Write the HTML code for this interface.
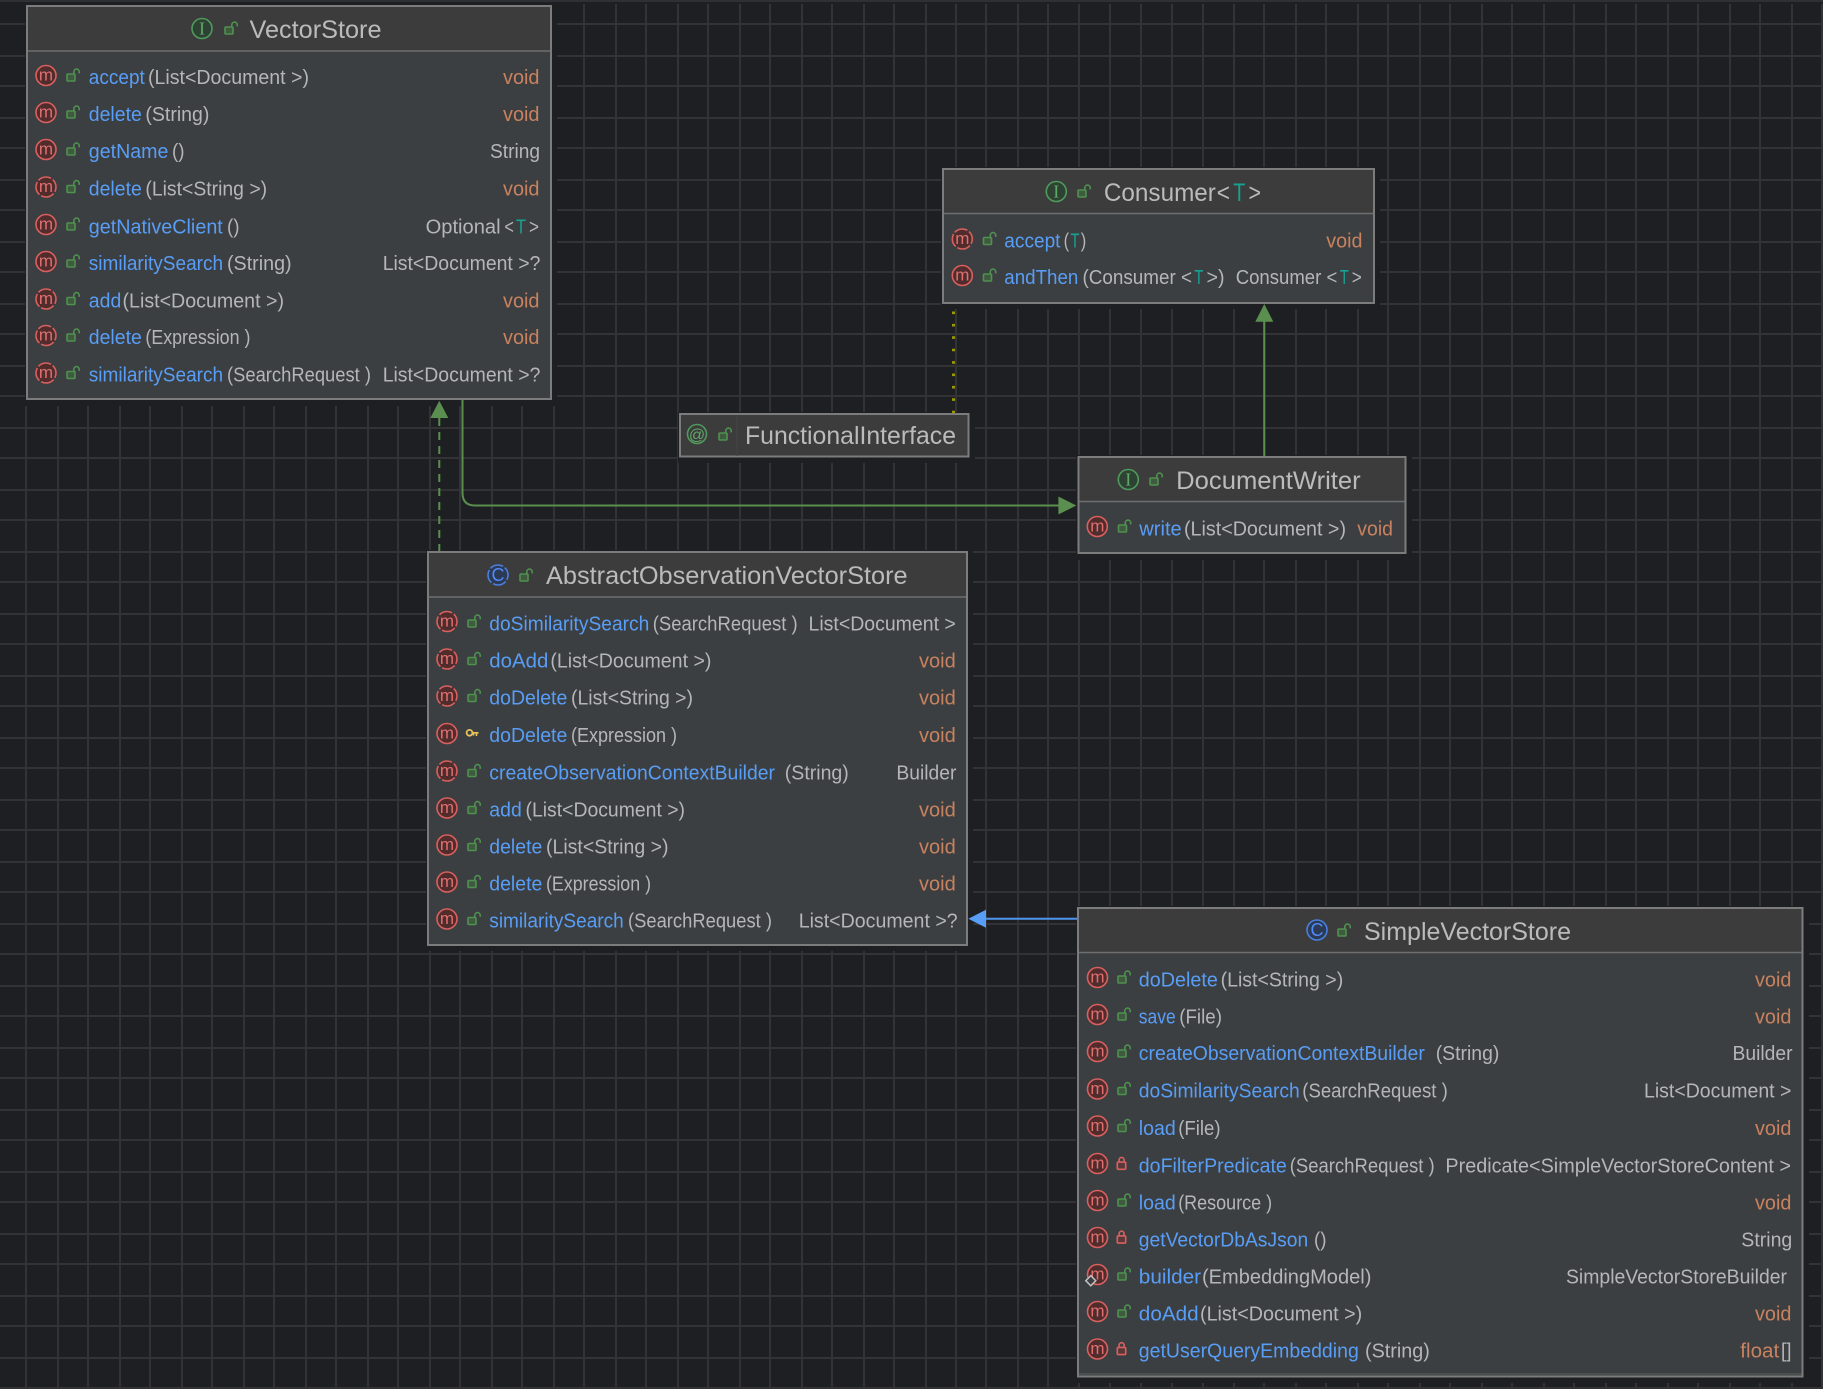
<!DOCTYPE html>
<html lang="en"><head><meta charset="utf-8"><title>VectorStore diagram</title>
<style>
html,body{margin:0;padding:0;background:#1e1f22;width:1823px;height:1389px;overflow:hidden}
svg{display:block}
text{font-family:"Liberation Sans",sans-serif;font-size:20px}
.n{fill:#589df6}.p{fill:#b4b6b8}.r{fill:#c9825f}.t{fill:#17a394}
.h{font-size:25px;fill:#bbbbbb}.ht{font-size:25px;fill:#17a394}
.c{fill:#512c2c;stroke:#d9605f;stroke-width:1.6}
.d{fill:#512c2c;stroke:#d9605f;stroke-width:1.6;stroke-dasharray:13.7 2;stroke-dashoffset:-7}
.m{font-size:17px;fill:#e07070;text-anchor:middle}
.box{fill:#3c3f41;stroke:#7c7c7c;stroke-width:2}
.hd{fill:#3c3c3c}
.dv{stroke:#6f6f6f;stroke-width:1.5}
.ig{fill:#2e4233;stroke:#4f9a5c;stroke-width:1.6}
.igt{font-family:"Liberation Serif",serif;font-size:18px;fill:#62a868;text-anchor:middle}
.ib{fill:#2b3a55;stroke:#4a7fe0;stroke-width:1.6}
.ibt{font-size:18px;fill:#548af7;text-anchor:middle}
</style></head><body>
<svg width="1823" height="1389" viewBox="0 0 1823 1389" xmlns="http://www.w3.org/2000/svg">
<defs>
<g id="lk"><rect x="-6" y="-3" width="8" height="7" rx="1" fill="#3f5a3f" stroke="#4f9150" stroke-width="1.6"/><path d="M0.8 -3V-5.2a2.7 2.7 0 0 1 5.4 0V-3.6" fill="none" stroke="#4f9150" stroke-width="1.6"/></g>
<g id="rl"><rect x="-5.2" y="-3.6" width="8.4" height="7.2" rx="1" fill="#5a3838" stroke="#d9605f" stroke-width="1.6"/><path d="M-3.4 -3.6V-5.8a2.5 2.5 0 0 1 5 0V-3.6" fill="none" stroke="#d9605f" stroke-width="1.6"/></g>
</defs>
<rect width="1823" height="1389" fill="#1e1f22"/>
<rect width="1823" height="2" fill="#2e3033"/>
<path shape-rendering="crispEdges" fill="none" stroke="#333335" stroke-width="2" d="M26 4V1389M58 4V1389M88 4V1389M120 4V1389M150 4V1389M182 4V1389M212 4V1389M244 4V1389M274 4V1389M306 4V1389M336 4V1389M368 4V1389M398 4V1389M430 4V1389M460 4V1389M492 4V1389M522 4V1389M554 4V1389M584 4V1389M616 4V1389M646 4V1389M678 4V1389M708 4V1389M740 4V1389M770 4V1389M802 4V1389M832 4V1389M864 4V1389M894 4V1389M926 4V1389M956 4V1389M986 4V1389M1018 4V1389M1048 4V1389M1079 4V1389M1110 4V1389M1141 4V1389M1172 4V1389M1203 4V1389M1234 4V1389M1264 4V1389M1296 4V1389M1326 4V1389M1358 4V1389M1388 4V1389M1420 4V1389M1450 4V1389M1482 4V1389M1512 4V1389M1544 4V1389M1574 4V1389M1606 4V1389M1636 4V1389M1668 4V1389M1698 4V1389M1730 4V1389M1760 4V1389M1792 4V1389M1822 4V1389
M0 24H1823M0 56H1823M0 86H1823M0 118H1823M0 148H1823M0 180H1823M0 210H1823M0 242H1823M0 272H1823M0 304H1823M0 334H1823M0 366H1823M0 396H1823M0 428H1823M0 458H1823M0 490H1823M0 520H1823M0 552H1823M0 582H1823M0 614H1823M0 644H1823M0 676H1823M0 706H1823M0 738H1823M0 768H1823M0 800H1823M0 830H1823M0 862H1823M0 892H1823M0 924H1823M0 954H1823M0 986H1823M0 1016H1823M0 1048H1823M0 1078H1823M0 1110H1823M0 1140H1823M0 1172H1823M0 1202H1823M0 1234H1823M0 1264H1823M0 1296H1823M0 1326H1823M0 1358H1823M0 1388H1823"/>

<!-- shadows -->
<g fill="#1e1f22">
<rect x="25" y="4" width="532" height="402"/>
<rect x="941" y="167" width="439" height="142"/>
<rect x="678" y="412" width="297" height="51"/>
<rect x="1076" y="455" width="336" height="105"/>
<rect x="426" y="550" width="547" height="401"/>
<rect x="1076" y="906" width="733" height="477"/>
</g>

<!-- connectors -->
<path d="M439.3 552V416" fill="none" stroke="#5a8f4f" stroke-width="2" stroke-dasharray="8 6"/>
<path d="M439.3 400.7L430.3 418H448.3Z" fill="#5a8f4f"/>
<path d="M462.5 399V493Q462.5 505.5 475 505.5H1060" fill="none" stroke="#5a8f4f" stroke-width="2"/>
<path d="M1076.3 505.5L1058.4 496.5V514.5Z" fill="#5a8f4f"/>
<path d="M1264.3 456V320" fill="none" stroke="#5a8f4f" stroke-width="2"/>
<path d="M1264.3 304L1255.3 321.7H1273.3Z" fill="#5a8f4f"/>
<path d="M953.5 311.5V413" fill="none" stroke="#9b9b00" stroke-width="3" stroke-dasharray="2.6 9.8"/>
<path d="M984 918.7H1077" fill="none" stroke="#4d95ef" stroke-width="2"/>
<path d="M968.3 918.7L986 909.7V927.7Z" fill="#589df6"/>

<!-- VectorStore -->
<rect class="box" x="27" y="6" width="524" height="393"/>
<rect class="hd" x="28" y="7" width="522" height="44"/>
<line class="dv" x1="28" y1="51" x2="550" y2="51"/>
<circle class="ig" cx="202" cy="28.5" r="10"/><text class="igt" x="202" y="34.5">I</text>
<use href="#lk" x="231" y="30"/>
<text class="h" x="249.5" y="38" textLength="132" lengthAdjust="spacingAndGlyphs">VectorStore</text>

<circle class="c" cx="46" cy="75.5" r="10"/><text class="m" x="46" y="80.5">m</text><use href="#lk" x="73" y="77"/>
<text class="n" x="88.8" y="84" textLength="56" lengthAdjust="spacingAndGlyphs">accept</text><text class="p" x="148" y="84" textLength="161" lengthAdjust="spacingAndGlyphs">(List&lt;Document &gt;)</text><text class="r" x="503" y="84" textLength="36.5" lengthAdjust="spacingAndGlyphs">void</text>

<circle class="c" cx="46" cy="112.5" r="10"/><text class="m" x="46" y="117.5">m</text><use href="#lk" x="73" y="114"/>
<text class="n" x="88.8" y="121" textLength="53" lengthAdjust="spacingAndGlyphs">delete</text><text class="p" x="145.4" y="121" textLength="64" lengthAdjust="spacingAndGlyphs">(String)</text><text class="r" x="503" y="121" textLength="36.5" lengthAdjust="spacingAndGlyphs">void</text>

<circle class="c" cx="46" cy="149.5" r="10"/><text class="m" x="46" y="154.5">m</text><use href="#lk" x="73" y="151"/>
<text class="n" x="88.8" y="158" textLength="79.6" lengthAdjust="spacingAndGlyphs">getName</text><text class="p" x="172" y="158" textLength="12.5" lengthAdjust="spacingAndGlyphs">()</text><text class="p" x="490" y="158" textLength="50" lengthAdjust="spacingAndGlyphs">String</text>

<circle class="d" cx="46" cy="187" r="10"/><text class="m" x="46" y="192">m</text><use href="#lk" x="73" y="188.5"/>
<text class="n" x="88.8" y="195.5" textLength="53" lengthAdjust="spacingAndGlyphs">delete</text><text class="p" x="145.4" y="195.5" textLength="121.7" lengthAdjust="spacingAndGlyphs">(List&lt;String &gt;)</text><text class="r" x="503" y="195.5" textLength="36.5" lengthAdjust="spacingAndGlyphs">void</text>

<circle class="c" cx="46" cy="224.5" r="10"/><text class="m" x="46" y="229.5">m</text><use href="#lk" x="73" y="226"/>
<text class="n" x="88.8" y="233.5" textLength="134" lengthAdjust="spacingAndGlyphs">getNativeClient</text><text class="p" x="227" y="233.5" textLength="12.5" lengthAdjust="spacingAndGlyphs">()</text><text class="p" x="425.6" y="233.5" textLength="75" lengthAdjust="spacingAndGlyphs">Optional</text><text class="p" x="504.4" y="233.5" textLength="9.5" lengthAdjust="spacingAndGlyphs">&lt;</text><text class="t" x="516" y="233.5" textLength="10" lengthAdjust="spacingAndGlyphs">T</text><text class="p" x="529" y="233.5" textLength="10" lengthAdjust="spacingAndGlyphs">&gt;</text>

<circle class="c" cx="46" cy="261.5" r="10"/><text class="m" x="46" y="266.5">m</text><use href="#lk" x="73" y="263"/>
<text class="n" x="88.8" y="270" textLength="134.3" lengthAdjust="spacingAndGlyphs">similaritySearch</text><text class="p" x="227" y="270" textLength="64.6" lengthAdjust="spacingAndGlyphs">(String)</text><text class="p" x="382.7" y="270" textLength="157.7" lengthAdjust="spacingAndGlyphs">List&lt;Document &gt;?</text>

<circle class="d" cx="46" cy="299" r="10"/><text class="m" x="46" y="304">m</text><use href="#lk" x="73" y="300.5"/>
<text class="n" x="88.8" y="307.5" textLength="32.5" lengthAdjust="spacingAndGlyphs">add</text><text class="p" x="122.5" y="307.5" textLength="161.5" lengthAdjust="spacingAndGlyphs">(List&lt;Document &gt;)</text><text class="r" x="503" y="307.5" textLength="36.5" lengthAdjust="spacingAndGlyphs">void</text>

<circle class="d" cx="46" cy="335.5" r="10"/><text class="m" x="46" y="340.5">m</text><use href="#lk" x="73" y="337"/>
<text class="n" x="88.8" y="344" textLength="53" lengthAdjust="spacingAndGlyphs">delete</text><text class="p" x="145.4" y="344" textLength="105" lengthAdjust="spacingAndGlyphs">(Expression )</text><text class="r" x="503" y="344" textLength="36.5" lengthAdjust="spacingAndGlyphs">void</text>

<circle class="d" cx="46" cy="373" r="10"/><text class="m" x="46" y="378">m</text><use href="#lk" x="73" y="374.5"/>
<text class="n" x="88.8" y="381.5" textLength="134.3" lengthAdjust="spacingAndGlyphs">similaritySearch</text><text class="p" x="227" y="381.5" textLength="144" lengthAdjust="spacingAndGlyphs">(SearchRequest )</text><text class="p" x="382.7" y="381.5" textLength="157.7" lengthAdjust="spacingAndGlyphs">List&lt;Document &gt;?</text>

<!-- Consumer -->
<rect class="box" x="943" y="169" width="431" height="134"/>
<rect class="hd" x="944" y="170" width="429" height="43"/>
<line class="dv" x1="944" y1="213.5" x2="1373" y2="213.5"/>
<circle class="ig" cx="1056.3" cy="191.5" r="10"/><text class="igt" x="1056.3" y="197.5">I</text>
<use href="#lk" x="1084" y="193"/>
<text class="h" x="1103.9" y="201" textLength="112" lengthAdjust="spacingAndGlyphs">Consumer</text><text class="h" x="1216.8" y="201" textLength="13.2" lengthAdjust="spacingAndGlyphs">&lt;</text><text class="ht" x="1233.3" y="201" textLength="12.1" lengthAdjust="spacingAndGlyphs">T</text><text class="h" x="1248.5" y="201" textLength="12.5" lengthAdjust="spacingAndGlyphs">&gt;</text>

<circle class="d" cx="962.3" cy="239" r="10"/><text class="m" x="962.3" y="244">m</text><use href="#lk" x="989.5" y="240.5"/>
<text class="n" x="1004.3" y="247.5" textLength="56.2" lengthAdjust="spacingAndGlyphs">accept</text><text class="p" x="1063.6" y="247.5" textLength="5.5" lengthAdjust="spacingAndGlyphs">(</text><text class="t" x="1070.5" y="247.5" textLength="9" lengthAdjust="spacingAndGlyphs">T</text><text class="p" x="1080.8" y="247.5" textLength="5.5" lengthAdjust="spacingAndGlyphs">)</text><text class="r" x="1326.3" y="247.5" textLength="36.2" lengthAdjust="spacingAndGlyphs">void</text>

<circle class="c" cx="962.3" cy="275.5" r="10"/><text class="m" x="962.3" y="280.5">m</text><use href="#lk" x="989.5" y="277"/>
<text class="n" x="1004.3" y="284" textLength="74" lengthAdjust="spacingAndGlyphs">andThen</text><text class="p" x="1082.5" y="284" textLength="109.5" lengthAdjust="spacingAndGlyphs">(Consumer &lt;</text><text class="t" x="1194.4" y="284" textLength="9" lengthAdjust="spacingAndGlyphs">T</text><text class="p" x="1206.5" y="284" textLength="18" lengthAdjust="spacingAndGlyphs">&gt;)</text><text class="p" x="1235.7" y="284" textLength="101.6" lengthAdjust="spacingAndGlyphs">Consumer &lt;</text><text class="t" x="1339.7" y="284" textLength="9" lengthAdjust="spacingAndGlyphs">T</text><text class="p" x="1351.8" y="284" textLength="10" lengthAdjust="spacingAndGlyphs">&gt;</text>

<!-- FunctionalInterface -->
<rect class="box" x="680" y="414" width="288.5" height="42.5" style="fill:#3c3c3c"/>
<line x1="737" y1="415" x2="737" y2="456" stroke="#444" stroke-width="1"/>
<circle cx="697" cy="434" r="9.5" fill="none" stroke="#4f9a5c" stroke-width="1.6"/><text x="697" y="440" font-size="15" fill="#62a868" text-anchor="middle" style="font-size:16px">@</text>
<use href="#lk" x="725" y="436"/>
<text class="h" x="745" y="444" textLength="211" lengthAdjust="spacingAndGlyphs">FunctionalInterface</text>

<!-- DocumentWriter -->
<rect class="box" x="1078.5" y="457" width="327" height="96"/>
<rect class="hd" x="1079.5" y="458" width="325" height="43"/>
<line class="dv" x1="1079.5" y1="501.5" x2="1404.5" y2="501.5"/>
<circle class="ig" cx="1128.3" cy="479.5" r="10"/><text class="igt" x="1128.3" y="485.5">I</text>
<use href="#lk" x="1156" y="481"/>
<text class="h" x="1176.2" y="489" textLength="184.5" lengthAdjust="spacingAndGlyphs">DocumentWriter</text>
<circle class="c" cx="1097.3" cy="526.5" r="10"/><text class="m" x="1097.3" y="531.5">m</text><use href="#lk" x="1124.5" y="528"/>
<text class="n" x="1139.3" y="535.5" textLength="42.4" lengthAdjust="spacingAndGlyphs">write</text><text class="p" x="1184" y="535.5" textLength="162" lengthAdjust="spacingAndGlyphs">(List&lt;Document &gt;)</text><text class="r" x="1357.3" y="535.5" textLength="35.7" lengthAdjust="spacingAndGlyphs">void</text>

<!-- AbstractObservationVectorStore -->
<rect class="box" x="428" y="552" width="539" height="393"/>
<rect class="hd" x="429" y="553" width="537" height="44"/>
<line class="dv" x1="429" y1="597" x2="966" y2="597"/>
<circle class="ib" cx="498" cy="575" r="10" style="stroke-dasharray:13.7 2;stroke-dashoffset:-7"/><text class="ibt" x="498" y="581">C</text>
<use href="#lk" x="526" y="577"/>
<text class="h" x="546" y="584" textLength="361.6" lengthAdjust="spacingAndGlyphs">AbstractObservationVectorStore</text>

<circle class="d" cx="447" cy="621.5" r="10"/><text class="m" x="447" y="626.5">m</text><use href="#lk" x="474" y="623"/>
<text class="n" x="489.3" y="630.5" textLength="160" lengthAdjust="spacingAndGlyphs">doSimilaritySearch</text><text class="p" x="652.7" y="630.5" textLength="145" lengthAdjust="spacingAndGlyphs">(SearchRequest )</text><text class="p" x="808.5" y="630.5" textLength="147.3" lengthAdjust="spacingAndGlyphs">List&lt;Document &gt;</text>

<circle class="d" cx="447" cy="659" r="10"/><text class="m" x="447" y="664">m</text><use href="#lk" x="474" y="660.5"/>
<text class="n" x="489.3" y="667.5" textLength="59" lengthAdjust="spacingAndGlyphs">doAdd</text><text class="p" x="550.4" y="667.5" textLength="161" lengthAdjust="spacingAndGlyphs">(List&lt;Document &gt;)</text><text class="r" x="919" y="667.5" textLength="36.8" lengthAdjust="spacingAndGlyphs">void</text>

<circle class="d" cx="447" cy="696" r="10"/><text class="m" x="447" y="701">m</text><use href="#lk" x="474" y="697.5"/>
<text class="n" x="489.3" y="704.5" textLength="78" lengthAdjust="spacingAndGlyphs">doDelete</text><text class="p" x="571" y="704.5" textLength="122" lengthAdjust="spacingAndGlyphs">(List&lt;String &gt;)</text><text class="r" x="919" y="704.5" textLength="36.8" lengthAdjust="spacingAndGlyphs">void</text>

<circle class="c" cx="447" cy="733.5" r="10"/><text class="m" x="447" y="738.5">m</text>
<circle cx="469.5" cy="732.8" r="2.9" fill="none" stroke="#e8c35c" stroke-width="1.8"/><path d="M472.5 732.8H478.5M476.5 733V736M473.5 733V735.5" fill="none" stroke="#e8c35c" stroke-width="1.6"/>
<text class="n" x="489.3" y="742" textLength="78" lengthAdjust="spacingAndGlyphs">doDelete</text><text class="p" x="571" y="742" textLength="106" lengthAdjust="spacingAndGlyphs">(Expression )</text><text class="r" x="919" y="742" textLength="36.8" lengthAdjust="spacingAndGlyphs">void</text>

<circle class="d" cx="447" cy="771" r="10"/><text class="m" x="447" y="776">m</text><use href="#lk" x="474" y="772.5"/>
<text class="n" x="489.3" y="779.5" textLength="285.7" lengthAdjust="spacingAndGlyphs">createObservationContextBuilder</text><text class="p" x="784.8" y="779.5" textLength="64" lengthAdjust="spacingAndGlyphs">(String)</text><text class="p" x="896.4" y="779.5" textLength="60" lengthAdjust="spacingAndGlyphs">Builder</text>

<circle class="c" cx="447" cy="808" r="10"/><text class="m" x="447" y="813">m</text><use href="#lk" x="474" y="809.5"/>
<text class="n" x="489.3" y="816.5" textLength="32.5" lengthAdjust="spacingAndGlyphs">add</text><text class="p" x="525.5" y="816.5" textLength="159.5" lengthAdjust="spacingAndGlyphs">(List&lt;Document &gt;)</text><text class="r" x="919" y="816.5" textLength="36.8" lengthAdjust="spacingAndGlyphs">void</text>

<circle class="c" cx="447" cy="845" r="10"/><text class="m" x="447" y="850">m</text><use href="#lk" x="474" y="846.5"/>
<text class="n" x="489.3" y="853.5" textLength="53" lengthAdjust="spacingAndGlyphs">delete</text><text class="p" x="546" y="853.5" textLength="122.5" lengthAdjust="spacingAndGlyphs">(List&lt;String &gt;)</text><text class="r" x="919" y="853.5" textLength="36.8" lengthAdjust="spacingAndGlyphs">void</text>

<circle class="c" cx="447" cy="882" r="10"/><text class="m" x="447" y="887">m</text><use href="#lk" x="474" y="883.5"/>
<text class="n" x="489.3" y="890.5" textLength="53" lengthAdjust="spacingAndGlyphs">delete</text><text class="p" x="546" y="890.5" textLength="105" lengthAdjust="spacingAndGlyphs">(Expression )</text><text class="r" x="919" y="890.5" textLength="36.8" lengthAdjust="spacingAndGlyphs">void</text>

<circle class="c" cx="447" cy="919" r="10"/><text class="m" x="447" y="924">m</text><use href="#lk" x="474" y="920.5"/>
<text class="n" x="489.3" y="927.5" textLength="134.5" lengthAdjust="spacingAndGlyphs">similaritySearch</text><text class="p" x="628" y="927.5" textLength="144" lengthAdjust="spacingAndGlyphs">(SearchRequest )</text><text class="p" x="798.7" y="927.5" textLength="159" lengthAdjust="spacingAndGlyphs">List&lt;Document &gt;?</text>

<!-- SimpleVectorStore -->
<rect class="box" x="1078" y="908" width="724.5" height="468.5"/>
<rect class="hd" x="1079" y="909" width="722.5" height="43"/>
<line class="dv" x1="1079" y1="952.5" x2="1801.5" y2="952.5"/>
<line x1="1079" y1="1374" x2="1801.5" y2="1374" stroke="#5d5f60" stroke-width="1"/>
<circle class="ib" cx="1317" cy="930" r="10"/><text class="ibt" x="1317" y="936">C</text>
<use href="#lk" x="1344" y="932"/>
<text class="h" x="1364" y="940" textLength="207" lengthAdjust="spacingAndGlyphs">SimpleVectorStore</text>

<circle class="c" cx="1097.5" cy="977.5" r="10"/><text class="m" x="1097.5" y="982.5">m</text><use href="#lk" x="1124" y="979"/>
<text class="n" x="1138.8" y="986.5" textLength="79" lengthAdjust="spacingAndGlyphs">doDelete</text><text class="p" x="1220.6" y="986.5" textLength="122.6" lengthAdjust="spacingAndGlyphs">(List&lt;String &gt;)</text><text class="r" x="1755" y="986.5" textLength="36.4" lengthAdjust="spacingAndGlyphs">void</text>

<circle class="c" cx="1097.5" cy="1014.5" r="10"/><text class="m" x="1097.5" y="1019.5">m</text><use href="#lk" x="1124" y="1016"/>
<text class="n" x="1138.8" y="1023.5" textLength="37" lengthAdjust="spacingAndGlyphs">save</text><text class="p" x="1179.2" y="1023.5" textLength="42.8" lengthAdjust="spacingAndGlyphs">(File)</text><text class="r" x="1755" y="1023.5" textLength="36.4" lengthAdjust="spacingAndGlyphs">void</text>

<circle class="c" cx="1097.5" cy="1051.5" r="10"/><text class="m" x="1097.5" y="1056.5">m</text><use href="#lk" x="1124" y="1053"/>
<text class="n" x="1138.8" y="1060" textLength="286" lengthAdjust="spacingAndGlyphs">createObservationContextBuilder</text><text class="p" x="1435.7" y="1060" textLength="63.7" lengthAdjust="spacingAndGlyphs">(String)</text><text class="p" x="1732.5" y="1060" textLength="60" lengthAdjust="spacingAndGlyphs">Builder</text>

<circle class="c" cx="1097.5" cy="1089" r="10"/><text class="m" x="1097.5" y="1094">m</text><use href="#lk" x="1124" y="1090.5"/>
<text class="n" x="1138.8" y="1097.5" textLength="161" lengthAdjust="spacingAndGlyphs">doSimilaritySearch</text><text class="p" x="1302.3" y="1097.5" textLength="145.5" lengthAdjust="spacingAndGlyphs">(SearchRequest )</text><text class="p" x="1644" y="1097.5" textLength="147.4" lengthAdjust="spacingAndGlyphs">List&lt;Document &gt;</text>

<circle class="c" cx="1097.5" cy="1126" r="10"/><text class="m" x="1097.5" y="1131">m</text><use href="#lk" x="1124" y="1127.5"/>
<text class="n" x="1138.8" y="1135" textLength="37" lengthAdjust="spacingAndGlyphs">load</text><text class="p" x="1178.2" y="1135" textLength="42.4" lengthAdjust="spacingAndGlyphs">(File)</text><text class="r" x="1755" y="1135" textLength="36.4" lengthAdjust="spacingAndGlyphs">void</text>

<circle class="c" cx="1097.5" cy="1163.5" r="10"/><text class="m" x="1097.5" y="1168.5">m</text><use href="#rl" x="1122.5" y="1165.7"/>
<text class="n" x="1138.8" y="1172.5" textLength="148" lengthAdjust="spacingAndGlyphs">doFilterPredicate</text><text class="p" x="1289.7" y="1172.5" textLength="145" lengthAdjust="spacingAndGlyphs">(SearchRequest )</text><text class="p" x="1445.4" y="1172.5" textLength="345.6" lengthAdjust="spacingAndGlyphs">Predicate&lt;SimpleVectorStoreContent &gt;</text>

<circle class="c" cx="1097.5" cy="1200.5" r="10"/><text class="m" x="1097.5" y="1205.5">m</text><use href="#lk" x="1124" y="1202"/>
<text class="n" x="1138.8" y="1209.5" textLength="37" lengthAdjust="spacingAndGlyphs">load</text><text class="p" x="1178.2" y="1209.5" textLength="94" lengthAdjust="spacingAndGlyphs">(Resource )</text><text class="r" x="1755" y="1209.5" textLength="36.4" lengthAdjust="spacingAndGlyphs">void</text>

<circle class="c" cx="1097.5" cy="1237.5" r="10"/><text class="m" x="1097.5" y="1242.5">m</text><use href="#rl" x="1122.5" y="1239.5"/>
<text class="n" x="1138.8" y="1246.5" textLength="169.4" lengthAdjust="spacingAndGlyphs">getVectorDbAsJson</text><text class="p" x="1314" y="1246.5" textLength="12.5" lengthAdjust="spacingAndGlyphs">()</text><text class="p" x="1741.3" y="1246.5" textLength="51" lengthAdjust="spacingAndGlyphs">String</text>

<circle class="c" cx="1097.5" cy="1274.5" r="10"/><text class="m" x="1097.5" y="1279.5">m</text><use href="#lk" x="1124" y="1276"/>
<path d="M1090.8 1275.6L1095.8 1280.7L1090.8 1285.8L1085.8 1280.7Z" fill="#3c3f41" stroke="#c0c0c0" stroke-width="1.5"/>
<text class="n" x="1138.8" y="1283.5" textLength="62.3" lengthAdjust="spacingAndGlyphs">builder</text><text class="p" x="1202" y="1283.5" textLength="169.4" lengthAdjust="spacingAndGlyphs">(EmbeddingModel)</text><text class="p" x="1566" y="1283.5" textLength="221" lengthAdjust="spacingAndGlyphs">SimpleVectorStoreBuilder</text>

<circle class="c" cx="1097.5" cy="1311.5" r="10"/><text class="m" x="1097.5" y="1316.5">m</text><use href="#lk" x="1124" y="1313"/>
<text class="n" x="1138.8" y="1320.5" textLength="59.9" lengthAdjust="spacingAndGlyphs">doAdd</text><text class="p" x="1200" y="1320.5" textLength="162.2" lengthAdjust="spacingAndGlyphs">(List&lt;Document &gt;)</text><text class="r" x="1755" y="1320.5" textLength="36.4" lengthAdjust="spacingAndGlyphs">void</text>

<circle class="c" cx="1097.5" cy="1349" r="10"/><text class="m" x="1097.5" y="1354">m</text><use href="#rl" x="1122.5" y="1351"/>
<text class="n" x="1138.8" y="1357.5" textLength="220" lengthAdjust="spacingAndGlyphs">getUserQueryEmbedding</text><text class="p" x="1365" y="1357.5" textLength="64.8" lengthAdjust="spacingAndGlyphs">(String)</text><text class="r" x="1740.3" y="1357.5" textLength="38.9" lengthAdjust="spacingAndGlyphs">float</text><text class="p" x="1781" y="1357.5" textLength="10.4" lengthAdjust="spacingAndGlyphs">[]</text>
</svg>
</body></html>
